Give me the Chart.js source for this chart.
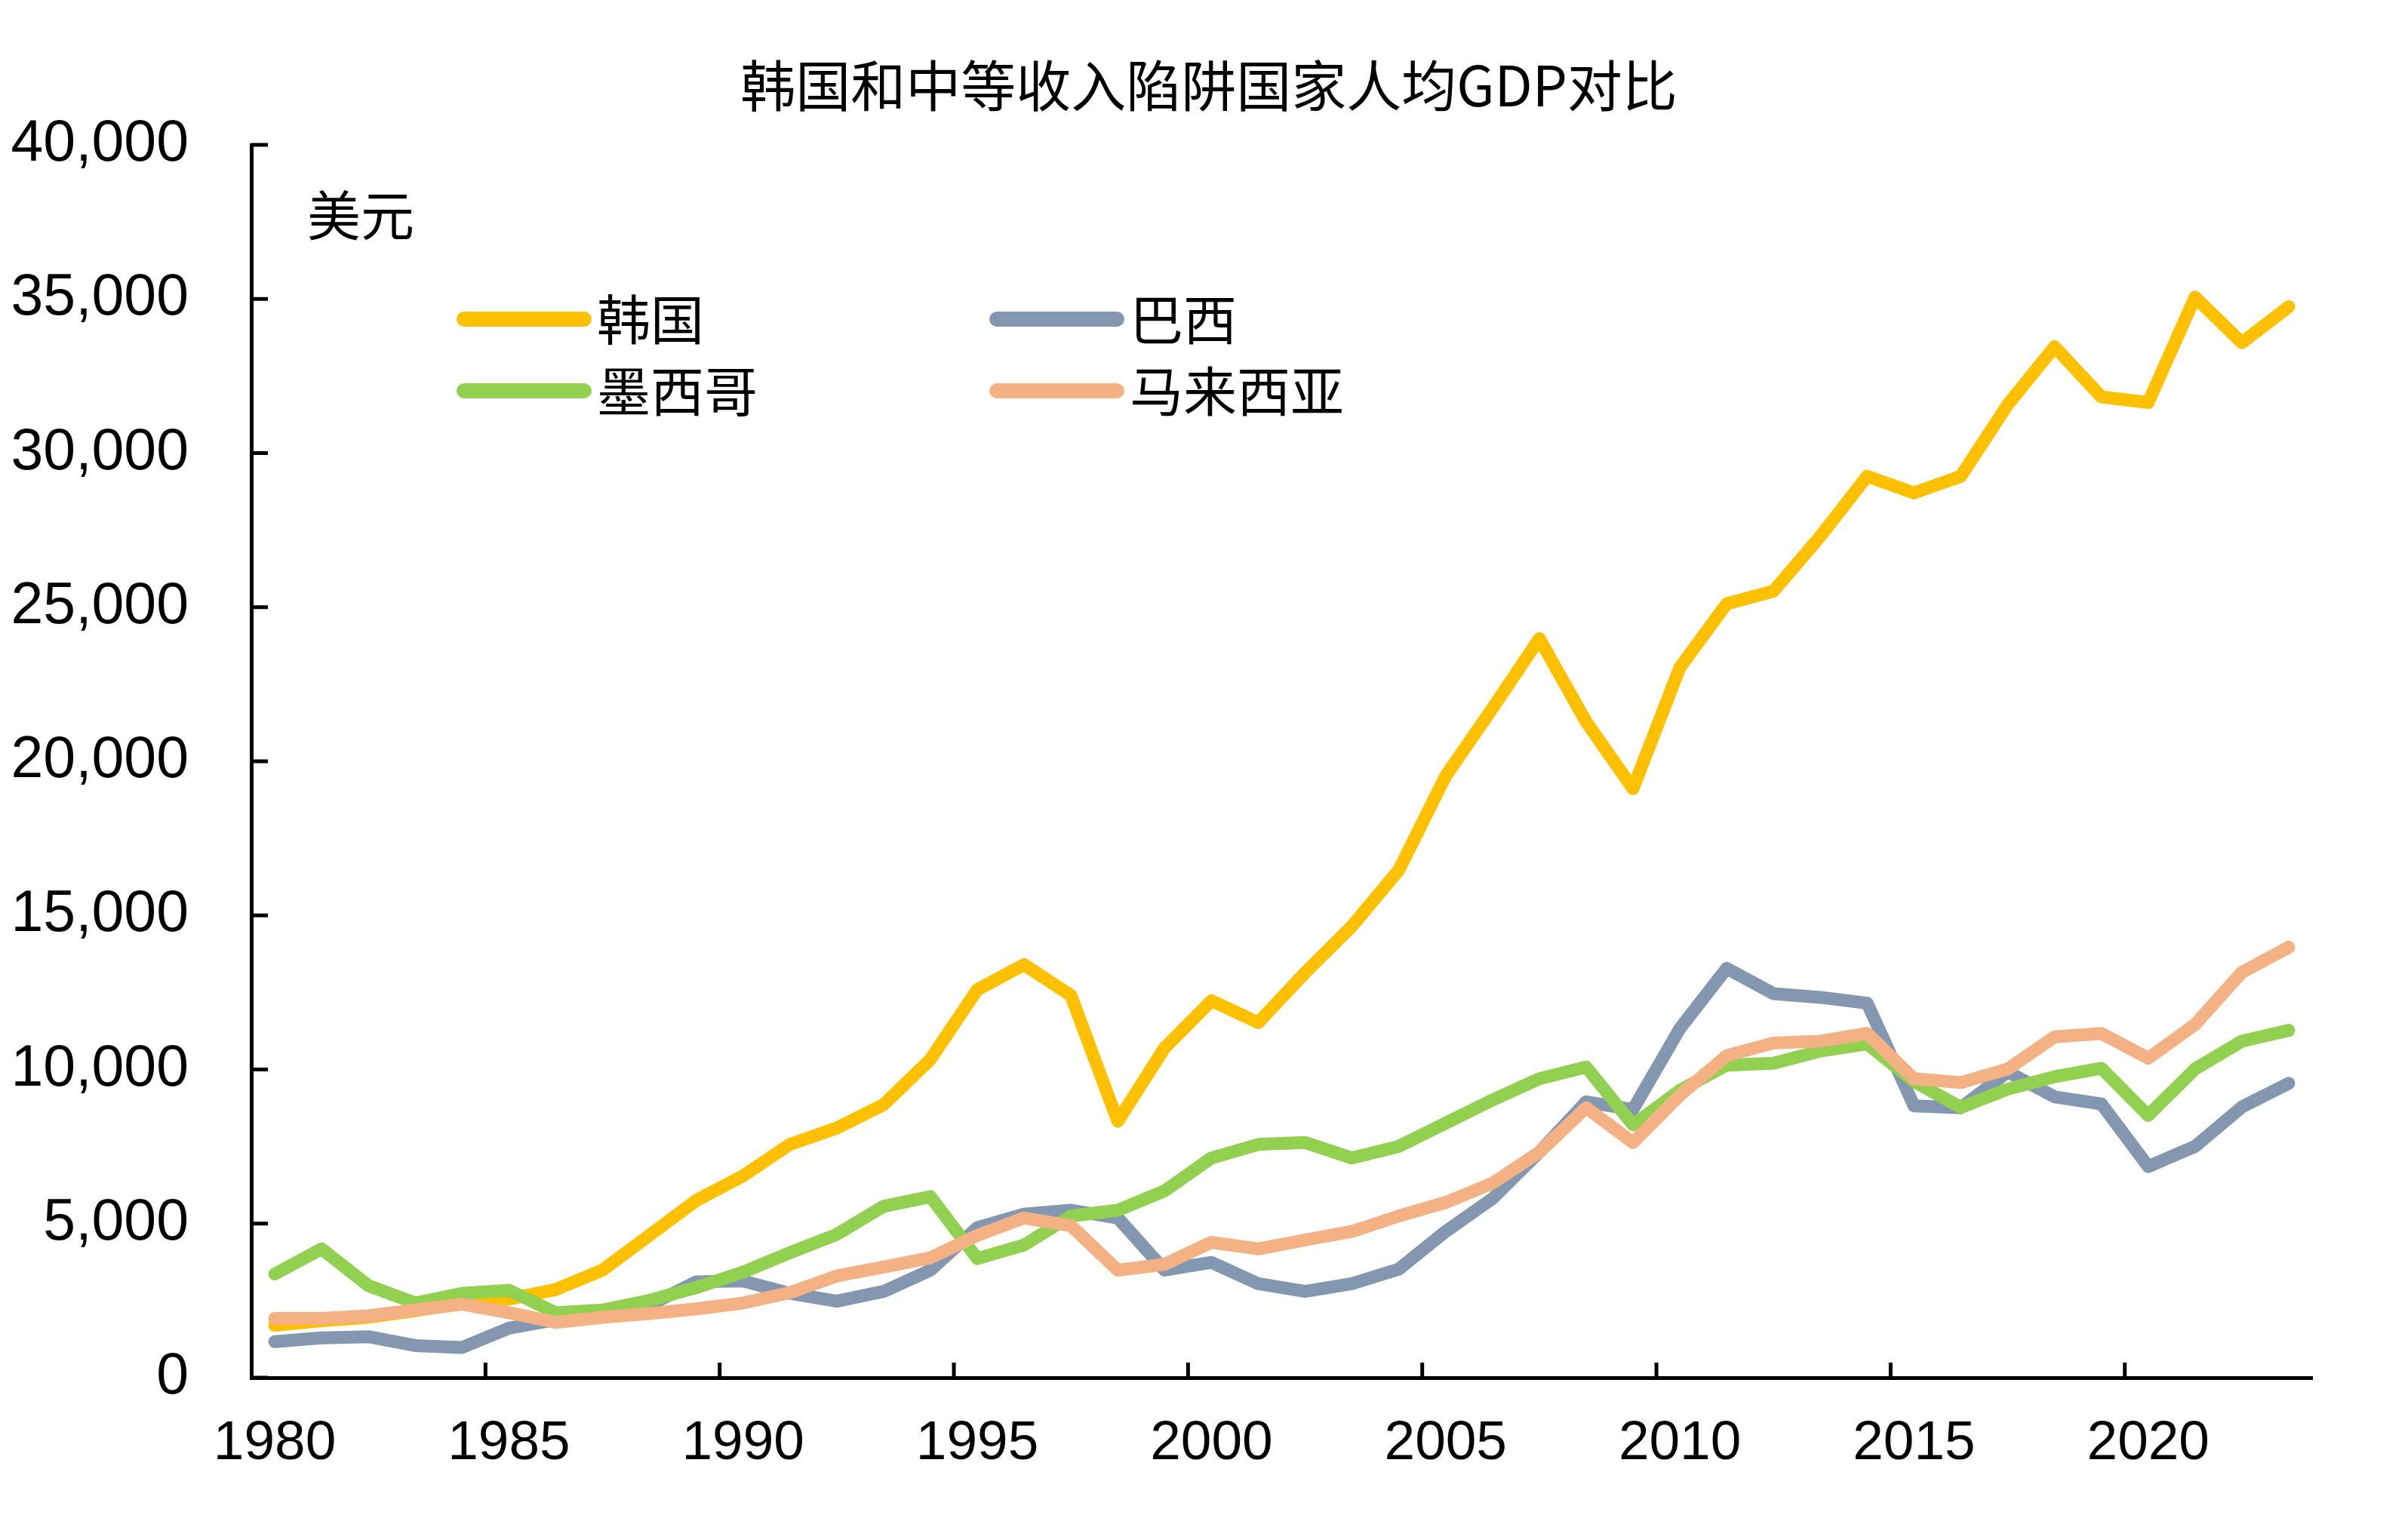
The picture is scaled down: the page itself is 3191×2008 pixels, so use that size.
<!DOCTYPE html>
<html>
<head>
<meta charset="utf-8">
<script src="https://cdn.jsdelivr.net/npm/chart.js@4.4.1/dist/chart.umd.min.js"></script>
<style>
  html, body { margin: 0; padding: 0; background: #ffffff; }
  #wrap { width: 3191px; height: 2008px; position: relative; }
  canvas { display: block; }
</style>
</head>
<body>
<div id="wrap"><canvas id="c" width="3191" height="2008"></canvas></div>
<script>
const chartTitle = '韩国和中等收入陷阱国家人均GDP对比';
const unitLabel = '美元';
const years = [];
for (let y = 1980; y <= 2023; y++) years.push(String(y));

const seriesNames = ['韩国', '巴西', '墨西哥', '马来西亚'];
const seriesColors = ['#FFC000', '#8497B0', '#92D050', '#F4B183'];

const korea = [1700, 1850, 1960, 2170, 2420, 2550, 2860, 3490, 4620, 5750,
  6550, 7570, 8100, 8860, 10330, 12590, 13400, 12400, 8320, 10700,
  12230, 11520, 13140, 14650, 16470, 19520, 21720, 23980, 21280, 19110,
  23040, 25110, 25520, 27300, 29250, 28710, 29250, 31570, 33450, 31820,
  31640, 35060, 33580, 34750];
const brazil = [1167, 1293, 1330, 1042, 979, 1606, 1883, 2046, 2350, 3112,
  3137, 2736, 2480, 2799, 3489, 4870, 5309, 5434, 5183, 3489,
  3740, 3050, 2799, 3050, 3520, 4744, 5810, 7320, 8950, 8700,
  11330, 13280, 12460, 12340, 12150, 8820, 8760, 9920, 9111, 8885,
  6852, 7505, 8785, 9550];
const mexico = [3363, 4180, 2987, 2422, 2736, 2836, 2108, 2196, 2510, 2924,
  3426, 4054, 4650, 5560, 5873, 3865, 4305, 5246, 5434, 6062,
  7128, 7568, 7630, 7128, 7505, 8260, 9010, 9700, 10080, 8200,
  9320, 10140, 10200, 10600, 10830, 9610, 8770, 9360, 9764, 10040,
  8509, 10015, 10920, 11270];
const malaysia = [1920, 1920, 2008, 2196, 2385, 2108, 1795, 1958, 2083, 2234,
  2422, 2761, 3300, 3590, 3890, 4618, 5183, 4932, 3489, 3677,
  4393, 4179, 4468, 4744, 5246, 5685, 6310, 7320, 8760, 7630,
  9160, 10450, 10860, 10920, 11170, 9700, 9575, 10015, 11057, 11170,
  10366, 11458, 13152, 13968];
const seriesValues = [korea, brazil, mexico, malaysia];

const yTicks = [0, 5000, 10000, 15000, 20000, 25000, 30000, 35000, 40000];

const numFont = '"Liberation Sans", Arial, sans-serif';
const cjkFont = '"Noto Sans CJK SC", "Noto Sans", sans-serif';

const decorPlugin = {
  id: 'decor',
  afterDraw(chart) {
    const ctx = chart.ctx;
    const area = chart.chartArea;
    const xs = chart.scales.x, ys = chart.scales.y;
    ctx.save();
    // inward tick marks
    ctx.strokeStyle = '#000';
    ctx.lineWidth = 5;
    ctx.lineCap = 'butt';
    yTicks.forEach(v => {
      const py = ys.getPixelForValue(v);
      ctx.beginPath();
      ctx.moveTo(area.left, py);
      ctx.lineTo(area.left + 22, py);
      ctx.stroke();
    });
    const half = (xs.getPixelForValue(1) - xs.getPixelForValue(0)) / 2;
    years.forEach((yr, i) => {
      if (i > 0 && Number(yr) % 5 === 0) {
        const px = xs.getPixelForValue(i) - half;
        ctx.beginPath();
        ctx.moveTo(px, area.bottom);
        ctx.lineTo(px, area.bottom - 20);
        ctx.stroke();
      }
    });
    // title
    ctx.fillStyle = '#000';
    ctx.textAlign = 'center';
    ctx.textBaseline = 'middle';
    ctx.font = '73px ' + cjkFont;
    ctx.fillText(chartTitle, 1602, 113);
    // unit
    ctx.textAlign = 'left';
    ctx.font = '71px ' + cjkFont;
    ctx.fillText(unitLabel, area.left + 74, 285);
    // legend (2 x 2)
    const cols = [area.left + 282, area.left + 988];
    const rows = [423, 518];
    chart.data.datasets.forEach((ds, i) => {
      const cx = cols[i % 2], cy = rows[Math.floor(i / 2)];
      ctx.strokeStyle = ds.borderColor;
      ctx.lineWidth = 20;
      ctx.lineCap = 'round';
      ctx.beginPath();
      ctx.moveTo(cx, cy);
      ctx.lineTo(cx + 159, cy);
      ctx.stroke();
      ctx.fillStyle = '#000';
      ctx.font = '71px ' + cjkFont;
      ctx.textBaseline = 'middle';
      ctx.fillText(ds.label, cx + 176, cy);
    });
    ctx.restore();
  }
};

const orders = [4, 3, 2, 1];
const datasets = seriesNames.map((name, i) => ({
  label: name,
  data: seriesValues[i],
  borderColor: seriesColors[i],
  backgroundColor: seriesColors[i],
  borderWidth: 17,
  borderCapStyle: 'round',
  borderJoinStyle: 'round',
  pointRadius: 0,
  tension: 0,
  fill: false,
  order: orders[i]
}));

new Chart(document.getElementById('c'), {
  type: 'line',
  data: { labels: years, datasets },
  options: {
    responsive: false,
    animation: false,
    devicePixelRatio: 1,
    layout: { padding: { left: 0, top: 192, right: 127, bottom: 0 } },
    plugins: { legend: { display: false }, title: { display: false }, tooltip: { enabled: false } },
    scales: {
      x: {
        type: 'category',
        offset: true,
        grid: { display: false, drawTicks: false, offset: true },
        border: { display: true, color: '#000', width: 5 },
        ticks: {
          autoSkip: false,
          maxRotation: 0,
          minRotation: 0,
          padding: 44,
          color: '#000',
          font: { family: numFont, size: 73 },
          callback: function (val, idx) {
            const y = years[idx];
            return Number(y) % 5 === 0 ? y : '';
          }
        },
        afterFit(scale) { scale.height = 2008 - 1826; }
      },
      y: {
        min: 0,
        max: 40000,
        grid: { display: false, drawTicks: false },
        border: { display: true, color: '#000', width: 5 },
        ticks: {
          stepSize: 5000,
          padding: 83,
          color: '#000',
          font: { family: numFont, size: 77 },
          callback: v => Number(v).toLocaleString('en-US')
        },
        afterFit(scale) { scale.width = 333; }
      }
    }
  },
  plugins: [decorPlugin]
});
</script>
</body>
</html>
